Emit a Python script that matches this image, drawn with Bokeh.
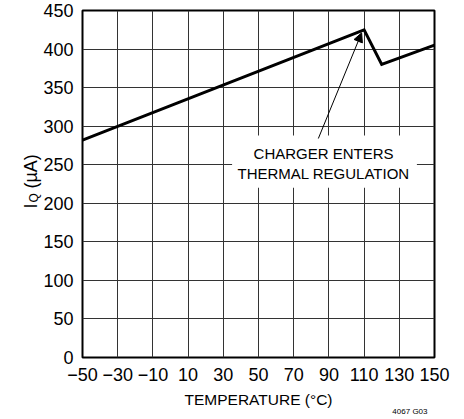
from bokeh.plotting import figure
from bokeh.models import Range1d, FixedTicker, Arrow, NormalHead, Title
from bokeh.core.properties import value
from bokeh.embed import file_html
from bokeh.resources import INLINE

# ---- data ----
temperature = [-50, 110, 120, 150]
iq_ua = [282, 425, 380, 405]
x_ticks = [-50, -30, -10, 10, 30, 50, 70, 90, 110, 130, 150]
y_ticks = [0, 50, 100, 150, 200, 250, 300, 350, 400, 450]
x_title = "TEMPERATURE (°C)"
y_title_main = "I\u00a0\u00a0\u00a0(µA)"
y_title_sub = "Q"
note_lines = ["CHARGER ENTERS", "THERMAL REGULATION"]
code_text = "4067 G03"

FONT = "Liberation Sans"
W, H = 464, 419
BT, BB, BL, BR = 10, 62, 82, 30

p = figure(width=W, height=H, output_backend="svg", toolbar_location=None,
           x_range=Range1d(-50, 150), y_range=Range1d(0, 450),
           min_border_left=BL, min_border_right=BR, min_border_top=BT, min_border_bottom=BB)
p.background_fill_color = "white"
p.border_fill_color = "white"
p.outline_line_color = "black"
p.outline_line_width = 2

for ax in (p.xaxis, p.yaxis):
    ax.axis_line_color = None
    ax.major_tick_line_color = None
    ax.minor_tick_line_color = None
    ax.major_tick_out = 0
    ax.major_tick_in = 0
    ax.minor_tick_out = 0
    ax.major_label_text_font = FONT
    ax.major_label_text_font_size = "18px"
    ax.major_label_text_color = "black"
    ax.axis_label_text_font = FONT
    ax.axis_label_text_font_size = "15.5px"
    ax.axis_label_text_font_style = "normal"
    ax.axis_label_text_color = "black"

p.xaxis.ticker = FixedTicker(ticks=x_ticks)
p.yaxis.ticker = FixedTicker(ticks=y_ticks)
p.xaxis.major_label_overrides = {t: str(t).replace("-", "\u2212") for t in x_ticks}
p.xaxis.major_label_standoff = 10
p.yaxis.major_label_standoff = 9
p.xaxis.axis_label = x_title
p.xaxis.axis_label_standoff = 7

p.xgrid.ticker = FixedTicker(ticks=x_ticks)
p.ygrid.ticker = FixedTicker(ticks=y_ticks)
for g in (p.xgrid, p.ygrid):
    g.grid_line_color = "#333333"
    g.grid_line_width = 1

# white box behind the annotation text
p.quad(left=[35], right=[140], bottom=[220], top=[288], fill_color="white", line_color=None)

# data line
p.line(temperature, iq_ua, line_color="black", line_width=3, line_join="miter")

# annotation text
p.text(x=[87, 87], y=[264.5, 238.5], text=note_lines, text_align="center", text_baseline="middle",
       text_font=value(FONT), text_font_size="15px", text_color="black")

# arrow
p.add_layout(Arrow(end=NormalHead(size=9, fill_color="black", line_color="black"),
                   x_start=84, y_start=284, x_end=108.6, y_end=421,
                   line_color="black", line_width=1))

# y axis title I_Q (µA) built from side titles
t_sub = Title(text=y_title_sub, align="left", vertical_align="top", offset=155,
              standoff=-4, text_font=FONT, text_font_size="12px", text_font_style="normal",
              text_color="black")
t_main = Title(text=y_title_main, align="left", vertical_align="bottom", offset=149, standoff=-24,
               text_font=FONT, text_font_size="18px", text_font_style="normal", text_color="black")
p.add_layout(t_sub, "left")
p.add_layout(t_main, "left")

# figure code
t_code = Title(text=code_text, align="right", vertical_align="top", offset=7, standoff=-7,
               text_font=FONT, text_font_size="8px", text_font_style="normal", text_color="black")
p.add_layout(t_code, "below")

open("out.html", "w").write(file_html(p, INLINE))
